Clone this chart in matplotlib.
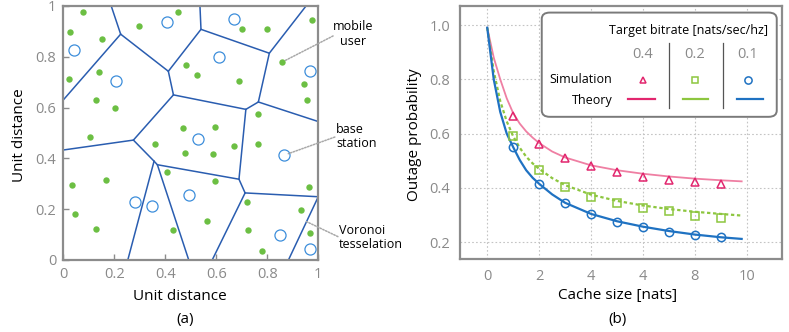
import matplotlib
matplotlib.use('Agg')
import matplotlib.pyplot as plt
from matplotlib.patches import FancyBboxPatch

plt.rcParams['font.family'] = ['Open Sans', 'DejaVu Sans']

# ---------------- Panel (a) data ----------------
user_x = [0.078, 0.026, 0.153, 0.297, 0.451, 0.702, 0.799, 0.974, 0.140, 0.024,
          0.481, 0.524, 0.688, 0.856, 0.943, 0.955, 0.128, 0.202, 0.764, 0.103,
          0.471, 0.594, 0.358, 0.669, 0.764, 0.479, 0.586, 0.033, 0.046, 0.169,
          0.129, 0.407, 0.594, 0.564, 0.432, 0.721, 0.724, 0.780, 0.962, 0.931,
          0.968]
user_y = [0.976, 0.898, 0.870, 0.922, 0.976, 0.909, 0.909, 0.945, 0.741, 0.714,
          0.766, 0.730, 0.703, 0.778, 0.694, 0.630, 0.630, 0.598, 0.575, 0.484,
          0.521, 0.524, 0.457, 0.447, 0.457, 0.420, 0.417, 0.295, 0.180, 0.314,
          0.122, 0.346, 0.309, 0.152, 0.117, 0.230, 0.117, 0.037, 0.287, 0.198,
          0.106]
bs_x = [0.043, 0.205, 0.406, 0.670, 0.610, 0.966, 0.527, 0.867, 0.282, 0.347,
        0.493, 0.850, 0.969]
bs_y = [0.828, 0.704, 0.938, 0.948, 0.800, 0.744, 0.477, 0.413, 0.230, 0.213,
        0.257, 0.100, 0.044]

vor_vertices = {
    'A': (0.225, 0.889), 'B': (0.412, 0.743), 'C': (0.432, 0.650),
    'D': (0.540, 0.908), 'E': (0.808, 0.814), 'F': (0.765, 0.622),
    'G': (0.716, 0.593), 'H': (0.275, 0.472), 'K1': (0.356, 0.389),
    'K2': (0.369, 0.375), 'I': (0.689, 0.318), 'J': (0.713, 0.264),
    'A_top': (0.188, 1.0), 'A_left': (0.0, 0.630), 'D_top': (0.536, 1.0),
    'E_top': (0.952, 1.0), 'F_right': (1.0, 0.545), 'H_left': (0.0, 0.433),
    'K1_bot': (0.253, 0.0), 'K2_bot': (0.492, 0.0), 'J_right': (1.0, 0.249),
    'J_bot': (0.584, 0.0), 'R_bot': (0.883, 0.0),
}
vor_edges = [('A_top', 'A'), ('A', 'A_left'), ('A', 'B'), ('B', 'C'), ('B', 'D'),
             ('D', 'D_top'), ('D', 'E'), ('E', 'E_top'), ('E', 'F'), ('F', 'G'),
             ('C', 'G'), ('F', 'F_right'), ('C', 'H'), ('H', 'H_left'),
             ('H', 'K1'), ('K1', 'K1_bot'), ('K1', 'K2'), ('K2', 'K2_bot'),
             ('K2', 'I'), ('G', 'I'), ('I', 'J'), ('J', 'J_right'),
             ('J', 'J_bot'), ('J_right', 'R_bot')]

unit_ticks = [0, 0.2, 0.4, 0.6, 0.8, 1]
unit_tick_labels = ['0', '0.2', '0.4', '0.6', '0.8', '1']

# ---------------- Panel (b) data ----------------
cache_sim = [1, 2, 3, 4, 5, 6, 7, 8, 9]
sim_04 = [0.666, 0.562, 0.511, 0.480, 0.457, 0.441, 0.429, 0.421, 0.414]
sim_02 = [0.591, 0.466, 0.404, 0.368, 0.343, 0.325, 0.313, 0.297, 0.290]
sim_01 = [0.552, 0.413, 0.343, 0.304, 0.276, 0.255, 0.239, 0.225, 0.218]

cache_theory = [0, 0.25, 0.5, 0.75, 1, 1.25, 1.5, 1.75, 2, 2.5, 3, 4, 5, 6, 7,
                8, 9, 9.8]
theory_04 = [0.99, 0.88, 0.80, 0.730, 0.675, 0.637, 0.608, 0.585, 0.565, 0.534,
             0.512, 0.483, 0.465, 0.452, 0.442, 0.434, 0.428, 0.424]
theory_02 = [0.99, 0.83, 0.72, 0.645, 0.590, 0.548, 0.515, 0.490, 0.470, 0.436,
             0.410, 0.375, 0.352, 0.335, 0.322, 0.312, 0.304, 0.298]
theory_01 = [0.99, 0.80, 0.68, 0.600, 0.550, 0.503, 0.465, 0.437, 0.415, 0.376,
             0.345, 0.304, 0.277, 0.257, 0.241, 0.228, 0.218, 0.212]

cache_ticks = [0, 2, 4, 6, 8, 10]
cache_tick_labels = ['0', '2', '4', '4', '8', '10']
prob_ticks = [0.2, 0.4, 0.6, 0.8, 1.0]
prob_tick_labels = ['0.2', '0.4', '0.6', '0.8', '1.0']
bitrates = ['0.4', '0.2', '0.1']

# ---------------- styles ----------------
GRAY = '#8a8a8a'
SPINE = '#8c8c8c'
VOR = '#2a5db0'
GREEN_DOT = '#6cbf43'
BS = '#3d8edb'
PINK_M = '#e2266e'
PINK_L = '#ef7fa3'
GREEN = '#8dc63f'
BLUE = '#1f72c2'

fig = plt.figure(figsize=(7.89, 3.32), dpi=100)

# ---------------- Panel (a) ----------------
ax1 = fig.add_axes([0.0802, 0.2169, 0.3232, 0.7651])
for a, b in vor_edges:
    (x0, y0), (x1, y1) = vor_vertices[a], vor_vertices[b]
    ax1.plot([x0, x1], [y0, y1], color=VOR, lw=1.1, solid_capstyle='round')
ax1.plot(user_x, user_y, 'o', color=GREEN_DOT, ms=4.6, mec='none')
ax1.plot(bs_x, bs_y, 'o', mfc='white', mec=BS, ms=8, mew=0.9)
ax1.set_xlim(0, 1)
ax1.set_ylim(0, 1)
ax1.set_xticks(unit_ticks)
ax1.set_xticklabels(unit_tick_labels)
ax1.set_yticks(unit_ticks)
ax1.set_yticklabels(unit_tick_labels)
ax1.tick_params(direction='in', length=4, width=1, color=SPINE,
                labelcolor=GRAY, labelsize=10.5, pad=5)
for s in ax1.spines.values():
    s.set_color(SPINE)
    s.set_linewidth(1.6)
ax1.set_xlabel('Unit distance', fontsize=11)
ax1.xaxis.set_label_coords(0.458, -0.115)
ax1.set_ylabel('Unit distance', fontsize=11)
ax1.yaxis.set_label_coords(-0.172, 0.49)
ax1.yaxis.label.set_va('center')
ax1.text(0.476, -0.236, '(a)', transform=ax1.transAxes, ha='center',
         va='center', fontsize=11)

# annotations
lead = dict(arrowstyle='-', color='#a8a8a8', lw=1.1, ls=(0, (1, 1)),
            shrinkA=0, shrinkB=3)
ax1.annotate('', xy=(user_x[13], user_y[13]), xytext=(1.058, 0.882),
             arrowprops=lead, annotation_clip=False)
ax1.text(1.136, 0.889, 'mobile\nuser', ha='center', va='center',
         fontsize=9, linespacing=1.15, clip_on=False)
ax1.annotate('', xy=(bs_x[7], bs_y[7]), xytext=(1.065, 0.484),
             arrowprops=lead, annotation_clip=False)
ax1.text(1.069, 0.486, 'base\nstation', ha='left', va='center',
         fontsize=9, linespacing=1.15, clip_on=False)
ax1.annotate('', xy=(0.954, 0.151), xytext=(1.077, 0.092),
             arrowprops=dict(lead, shrinkB=0), annotation_clip=False)
ax1.text(1.081, 0.089, 'Voronoi\ntesselation', ha='left', va='center',
         fontsize=9, linespacing=1.15, clip_on=False)

# ---------------- Panel (b) ----------------
ax2 = fig.add_axes([0.583, 0.2199, 0.408, 0.762])
ax2.set_xlim(-1.05, 11.35)
ax2.set_ylim(0.138, 1.07)
ax2.set_xticks(cache_ticks)
ax2.set_xticklabels(cache_tick_labels)
ax2.set_yticks(prob_ticks)
ax2.set_yticklabels(prob_tick_labels)
ax2.grid(True, color='#c4c4c4', lw=0.8, ls=(0, (1.5, 2)))
ax2.set_axisbelow(True)
ax2.tick_params(length=0, labelcolor=GRAY, labelsize=10.5, pad=7)
for s in ax2.spines.values():
    s.set_color(SPINE)
    s.set_linewidth(1.6)

ax2.plot(cache_theory, theory_04, color=PINK_L, lw=1.3)
ax2.plot(cache_theory, theory_02, color=GREEN, lw=1.6, ls=(0, (1.5, 1.2)))
ax2.plot(cache_theory, theory_01, color=BLUE, lw=1.6)
ax2.plot(cache_sim, sim_04, '^', mfc='none', mec=PINK_M, ms=5.3, mew=1.1)
ax2.plot(cache_sim, sim_02, 's', mfc='none', mec=GREEN, ms=5.8, mew=1.1)
ax2.plot(cache_sim, sim_01, 'o', mfc='none', mec=BLUE, ms=6.0, mew=1.1)

ax2.set_xlabel('Cache size [nats]', fontsize=11)
ax2.xaxis.set_label_coords(0.488, -0.115)
ax2.set_ylabel('Outage probability', fontsize=11)
ax2.yaxis.set_label_coords(-0.140, 0.49)
ax2.yaxis.label.set_va('center')
ax2.text(0.488, -0.238, '(b)', transform=ax2.transAxes, ha='center',
         va='center', fontsize=11)

# custom legend
T = ax2.transAxes
box = FancyBboxPatch((0.254, 0.562), 0.730, 0.412,
                     boxstyle='round,pad=0,rounding_size=0.025',
                     transform=T, fc='white', ec='#7a7a7a', lw=1.4, zorder=5)
ax2.add_patch(box)
ax2.text(0.957, 0.905, 'Target bitrate [nats/sec/hz]', transform=T,
         ha='right', va='center', fontsize=9, zorder=6)
col_x = [0.567, 0.730, 0.895]
line_x = [(0.522, 0.606), (0.692, 0.771), (0.861, 0.942)]
markers = [('^', PINK_M, 4.8), ('s', GREEN, 5.0), ('o', BLUE, 5.2)]
line_styles = [PINK_M, GREEN, BLUE]
for i, lab in enumerate(bitrates):
    ax2.text(col_x[i], 0.810, lab, transform=T, ha='center', va='center',
             fontsize=10.5, color=GRAY, zorder=6)
    m, c, ms = markers[i]
    ax2.plot([col_x[i]], [0.708], m, mfc='none', mec=c, ms=ms, mew=1.1,
             transform=T, zorder=6, clip_on=False)
    ax2.plot(line_x[i], [0.632, 0.632], color=line_styles[i], lw=1.6,
             transform=T, zorder=6, clip_on=False)
for sx in [0.650, 0.816]:
    ax2.plot([sx, sx], [0.597, 0.854], color='#555555', lw=0.9,
             transform=T, zorder=6)
ax2.text(0.474, 0.708, 'Simulation', transform=T, ha='right', va='center',
         fontsize=9, zorder=6)
ax2.text(0.474, 0.628, 'Theory', transform=T, ha='right', va='center',
         fontsize=9, zorder=6)

fig.savefig('out.png', dpi=100)
